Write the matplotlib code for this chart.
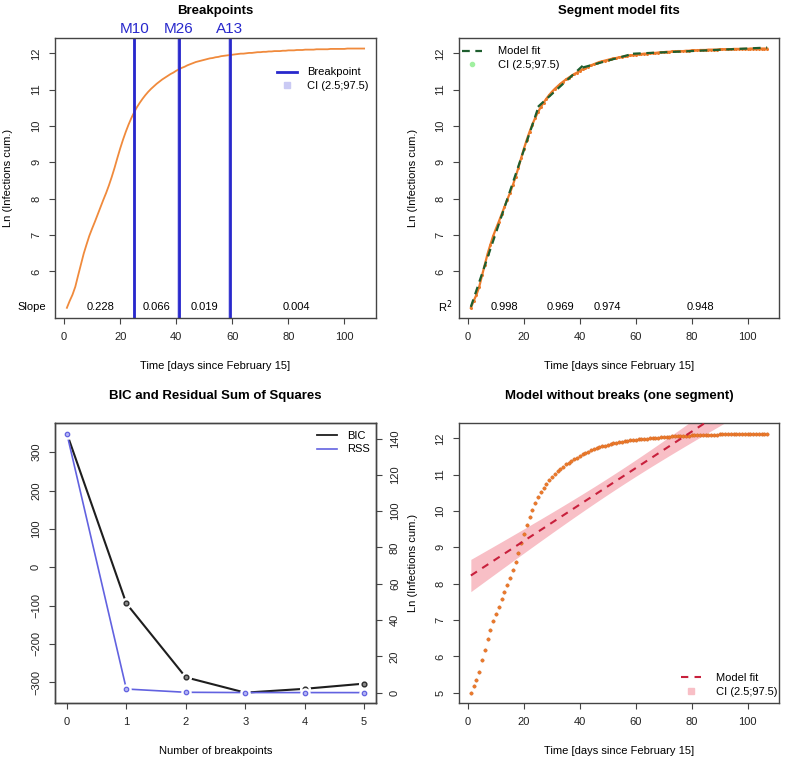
import numpy as np
import matplotlib
matplotlib.use("Agg")
import matplotlib.pyplot as plt
from matplotlib.transforms import blended_transform_factory
from matplotlib.lines import Line2D

plt.rcParams['font.family'] = ['Liberation Sans', 'DejaVu Sans']
plt.rcParams['font.size'] = 8

# ln of cumulative infections, days 1..107 since February 15
days = np.arange(1, 108)
ln_cases = [
    5.00, 5.19, 5.36, 5.58, 5.89, 6.19, 6.49, 6.74, 6.98, 7.18,
    7.37, 7.57, 7.77, 7.97, 8.16, 8.37, 8.60, 8.85, 9.12, 9.38,
    9.62, 9.84, 10.04, 10.22, 10.38, 10.52, 10.64, 10.75, 10.85, 10.94,
    11.02, 11.09, 11.16, 11.22, 11.28, 11.33, 11.38, 11.43, 11.47, 11.52,
    11.56, 11.60, 11.63, 11.67, 11.70, 11.73, 11.76, 11.78, 11.80, 11.82,
    11.84, 11.86, 11.87, 11.89, 11.90, 11.92, 11.93, 11.94, 11.95, 11.96,
    11.97, 11.98, 11.99, 11.99, 12.00, 12.01, 12.01, 12.02, 12.03, 12.03,
    12.04, 12.04, 12.05, 12.05, 12.06, 12.06, 12.06, 12.07, 12.07, 12.08,
    12.08, 12.08, 12.09, 12.09, 12.09, 12.10, 12.10, 12.10, 12.10, 12.11,
    12.11, 12.11, 12.11, 12.11, 12.12, 12.12, 12.12, 12.12, 12.12, 12.12,
    12.13, 12.13, 12.13, 12.13, 12.13, 12.13, 12.13,
]
ln_cases = np.array(ln_cases)

breakpoints = [25, 41, 59]
bp_labels = ['M10', 'M26', 'A13']
bp_ci = [0.6, 0.6, 0.6]
segments = [(1, 25), (25, 41), (41, 59), (59, 107)]
slopes = ['0.228', '0.066', '0.019', '0.004']
r2 = ['0.998', '0.969', '0.974', '0.948']

n_breaks = [0, 1, 2, 3, 4, 5]
bic = [348.6, -94.5, -287, -327, -317, -303.5]
rss = [142.7, 2.0, 0.2, 0.05, 0.04, 0.03]

orange = '#F08A3C'
dot_orange = '#EC7A2A'
blue = '#2828CC'
lavender = '#CACAF4'
green = '#1E5E2E'
light_green = '#A0F0A0'
red = '#C8203C'
pink = '#F8BFC6'
rss_blue = '#6262E0'
frame = '#444444'

fig = plt.figure(figsize=(7.87, 7.64), dpi=100)
W, H = 787, 764


def add_ax(x0, y0, x1, y1):
    return fig.add_axes([x0 / W, 1 - y1 / H, (x1 - x0) / W, (y1 - y0) / H])


def style(ax):
    for s in ax.spines.values():
        s.set_color(frame)
        s.set_linewidth(1.0)
    ax.tick_params(direction='out', length=4, width=0.8, color=frame,
                   labelcolor='#222222', pad=6)
    for lab in ax.get_yticklabels():
        lab.set_rotation(90)
        lab.set_va('center')


def time_axes(ax, title):
    ax.set_xlim(-3.24, 111.24)
    ax.set_ylim(4.72, 12.42)
    ax.set_xticks([0, 20, 40, 60, 80, 100])
    ax.text(0.5, 1.096, title, transform=ax.transAxes, ha='center', va='center',
            fontsize=9.5, fontweight='bold')
    ax.set_xlabel('Time [days since February 15]', va='center')
    ax.xaxis.set_label_coords(0.5, -0.171)
    ax.set_ylabel('Ln (Infections cum.)', va='center')
    ax.yaxis.set_label_coords(-0.146, 0.5)


# ---- top left: breakpoints
ax1 = add_ax(55, 38, 376, 318)
time_axes(ax1, 'Breakpoints')
ax1.set_yticks([6, 7, 8, 9, 10, 11, 12])
ax1.plot(days, ln_cases, color=orange, lw=1.3)
for bp, lab, ci in zip(breakpoints, bp_labels, bp_ci):
    ax1.axvspan(bp - ci, bp + ci, color=lavender, lw=0)
    ax1.axvline(bp, color=blue, lw=2.0)
    ax1.text(bp, 12.42 + 0.24, lab, ha='center', va='center', color=blue,
             fontsize=11, clip_on=False)
tr1 = blended_transform_factory(ax1.transAxes, ax1.transData)
ax1.text(-0.028, 5.03, 'Slope', transform=tr1, ha='right', va='center')
for (a, b), s in zip(segments, slopes):
    ax1.text((a + b) / 2, 5.03, s, ha='center', va='center')
h1 = [Line2D([], [], color=blue, lw=2.0),
      Line2D([], [], color=lavender, marker='s', ls='none', markersize=4)]
ax1.legend(h1, ['Breakpoint', 'CI (2.5;97.5)'], loc='upper right',
           bbox_to_anchor=(0.978, 0.895), frameon=False, borderpad=0,
           borderaxespad=0, handlelength=1.8, handletextpad=0.9, labelspacing=0.3)
style(ax1)

# ---- top right: segment model fits
ax2 = add_ax(459, 38, 779, 318)
time_axes(ax2, 'Segment model fits')
ax2.set_yticks([6, 7, 8, 9, 10, 11, 12])
ax2.plot(days, ln_cases, color=dot_orange, lw=1.6, marker='o', markersize=2.2,
         markeredgewidth=0)
for a, b in segments:
    m = (days >= a) & (days <= b)
    k, c = np.polyfit(days[m], ln_cases[m], 1)
    xs = np.array([a, b])
    ax2.plot(xs, k * xs + c, color=green, lw=1.6, dashes=(3.5, 2.5))
tr2 = blended_transform_factory(ax2.transAxes, ax2.transData)
ax2.text(-0.022, 5.03, 'R$^2$', transform=tr2, ha='right', va='center')
for (a, b), s in zip(segments, r2):
    ax2.text((a + b) / 2, 5.03, s, ha='center', va='center')
h2 = [Line2D([], [], color=green, lw=1.6, dashes=(3.5, 2.5)),
      Line2D([], [], color=light_green, marker='o', ls='none', markersize=3)]
ax2.legend(h2, ['Model fit', 'CI (2.5;97.5)'], loc='upper left',
           bbox_to_anchor=(0.01, 0.97), frameon=False, borderpad=0,
           borderaxespad=0, handlelength=1.8, handletextpad=1.4, labelspacing=0.3)
ax2.yaxis.set_label_coords(-0.144, 0.5)
style(ax2)

# ---- bottom left: BIC and RSS
ax3 = add_ax(55, 423, 376, 703)
ax3.set_xlim(-0.2, 5.2)
ax3.set_ylim(-354, 376)
ax3.set_yticks([-300, -200, -100, 0, 100, 200, 300])
ax3.set_xticks(n_breaks)
ax3.text(0.5, 1.096, 'BIC and Residual Sum of Squares', transform=ax3.transAxes,
         ha='center', va='center', fontsize=9.5, fontweight='bold')
ax3.set_xlabel('Number of breakpoints', va='center')
ax3.xaxis.set_label_coords(0.5, -0.171)
ax4 = ax3.twinx()
ax4.set_ylim(-5.7, 148.6)
ax4.set_yticks([0, 20, 40, 60, 80, 100, 120, 140])
ax3.plot(n_breaks, bic, color='#1e1e1e', lw=1.5, zorder=2)
ax3.plot(n_breaks, bic, 'o', color='white', markersize=7, zorder=3)
ax3.plot(n_breaks, bic, 'o', mfc='#8a8a8a', mec='#2a2a2a', markersize=3.4,
         mew=1.0, zorder=4)
ax4.plot(n_breaks, rss, color=rss_blue, lw=1.2, zorder=2)
ax4.plot(n_breaks, rss, 'o', color='white', markersize=6.5, zorder=3)
ax4.plot(n_breaks, rss, 'o', mfc='#b4b4f4', mec=rss_blue, markersize=3.2,
         mew=0.9, zorder=4)
h3 = [Line2D([], [], color='#1e1e1e', lw=1.3), Line2D([], [], color=rss_blue, lw=1.2)]
ax3.legend(h3, ['BIC', 'RSS'], loc='upper left', bbox_to_anchor=(0.816, 0.971),
           frameon=False, borderpad=0, borderaxespad=0, handlelength=1.8,
           handletextpad=0.9, labelspacing=0.3)
style(ax3)
style(ax4)

# ---- bottom right: one segment model
ax5 = add_ax(459, 423, 779, 703)
time_axes(ax5, 'Model without breaks (one segment)')
ax5.set_yticks([5, 6, 7, 8, 9, 10, 11, 12])
k, c = np.polyfit(days, ln_cases, 1)
fit = k * days + c
resid = ln_cases - fit
n = len(days)
s = np.sqrt(np.sum(resid ** 2) / (n - 2))
xc = days - days.mean()
half = 1.983 * s * np.sqrt(1 / n + xc ** 2 / np.sum(xc ** 2))
ax5.fill_between(days, fit - half, fit + half, color=pink, lw=0, zorder=1)
ax5.plot(days, fit, color=red, lw=1.5, dashes=(3.5, 3), zorder=3)
ax5.scatter(days, ln_cases, s=6, color=dot_orange, edgecolors='#D0601C',
            linewidths=0.3, zorder=2)
h5 = [Line2D([], [], color=red, lw=1.5, dashes=(3.5, 3)),
      Line2D([], [], color=pink, marker='s', ls='none', markersize=5)]
ax5.legend(h5, ['Model fit', 'CI (2.5;97.5)'], loc='lower left',
           bbox_to_anchor=(0.694, 0.023), frameon=False, borderpad=0,
           borderaxespad=0, handlelength=1.8, handletextpad=1.3, labelspacing=0.3)
ax5.yaxis.set_label_coords(-0.144, 0.5)
style(ax5)

fig.savefig('out.png', dpi=100)
